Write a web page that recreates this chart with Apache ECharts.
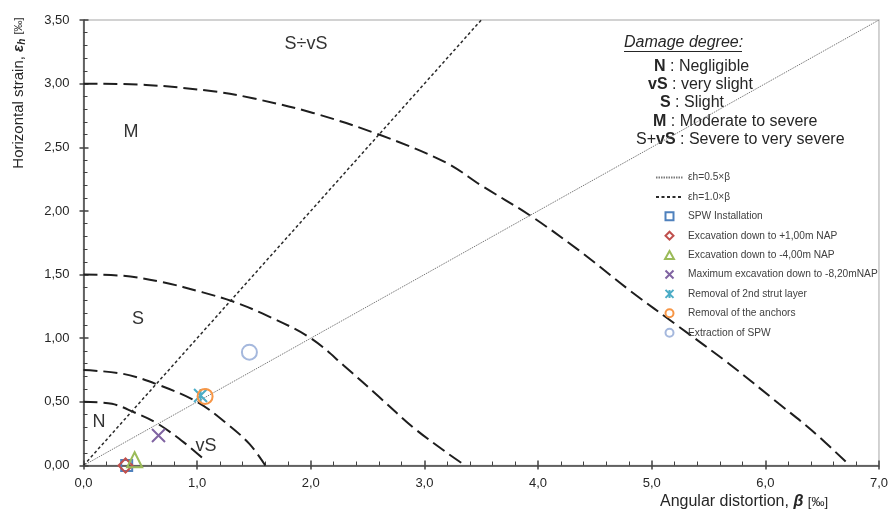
<!DOCTYPE html>
<html>
<head>
<meta charset="utf-8">
<title>Damage degree chart</title>
<script src="https://cdn.jsdelivr.net/npm/echarts@6/dist/echarts.min.js"></script>
<style>html,body{margin:0;padding:0;background:#fff;}</style>
</head>
<body>
<div id="main" style="width:891px;height:519px;"></div>
<script>
// damage boundaries [beta, eps_h]
var limitN  = [[0, 0.5], [0.25, 0.485], [0.44, 0.42], [0.65, 0.33], [0.90, 0.17], [1.07, 0.04]];
var limitVS = [[0, 0.75], [0.35, 0.72], [0.64, 0.64], [1.0, 0.5], [1.26, 0.33], [1.46, 0.17], [1.6, 0.0]];
var limitS  = [[0, 1.5], [0.35, 1.49], [0.70, 1.44], [1.05, 1.36], [1.31, 1.29], [1.61, 1.18], [2.0, 1.0],
               [2.31, 0.77], [2.60, 0.54], [2.90, 0.30], [3.19, 0.105], [3.36, 0.0]];
var limitM  = [[0, 3.0], [0.55, 2.99], [1.14, 2.94], [1.49, 2.885], [2.02, 2.77], [2.60, 2.60], [3.19, 2.38],
               [3.5, 2.2], [3.92, 1.97], [4.36, 1.69], [4.80, 1.38], [5.24, 1.09], [5.68, 0.80], [6.12, 0.485],
               [6.41, 0.275], [6.72, 0.02]];

// reference lines
var lineHalf = [[0, 0], [7, 3.5]];
var lineOne  = [[0, 0], [3.5, 3.5]];

// measured points
var spwInstall  = [[0.38, 0.0]];
var excPlus1    = [[0.37, 0.0]];
var excMinus4   = [[0.45, 0.045]];
var excMax      = [[0.66, 0.236]];
var strutRemove = [[1.03, 0.55]];
var anchorsOut  = [[1.07, 0.543]];
var spwExtract  = [[1.46, 0.89]];

var FONT = '"Liberation Sans", Arial, sans-serif';
var INK = '#262626';

var myChart = echarts.init(document.getElementById('main'));

function tok(size, weight, style) {
    return {fontSize: size, fontFamily: FONT, fontWeight: weight || 'normal', fontStyle: style || 'normal', fill: INK};
}

function boundary(name, data) {
    return {
        name: name, type: 'line', data: data, smooth: 0.35, symbol: 'none', silent: true, z: 2,
        lineStyle: {color: '#1e1e1e', width: 2, type: [14, 6]}
    };
}

function marker(name, data, symbol, size, color) {
    return {
        name: name, type: 'scatter', data: data, symbol: symbol, symbolSize: size, z: 5,
        itemStyle: {color: 'rgba(0,0,0,0)', borderColor: color, borderWidth: 2, opacity: 1}
    };
}

// path symbols keep their aspect in the legend
var squarePath  = 'path://M0,0L10,0L10,10L0,10Z';
var diamondPath = 'path://M5,0L10,5L5,10L0,5Z';
var trianglePath = 'path://M5,0L10,9L0,9Z';
var starPath  = 'path://M0,0L10,10M10,0L0,10M5,0L5,10';
var crossPath = 'path://M0,0L10,10M10,0L0,10';

var markerNames = ['SPW Installation', 'Excavation down to +1,00m NAP', 'Excavation down to -4,00m NAP',
    'Maximum excavation down to -8,20mNAP', 'Removal of 2nd strut layer', 'Removal of the anchors', 'Extraction of SPW'];

var legendData = [
    {name: 'εh=0.5×β', itemStyle: {opacity: 0}},
    {name: 'εh=1.0×β', itemStyle: {opacity: 0}}
].concat(markerNames);

function rowText(x, y, text) {
    return {
        type: 'text', x: x, y: y, silent: true,
        style: {
            text: text, align: 'left', verticalAlign: 'middle',
            fontSize: 16, fontFamily: FONT, fill: INK,
            rich: {b: tok(16, 'bold'), n: tok(16)}
        }
    };
}

function regionText(x, y, text) {
    return {
        type: 'text', x: x, y: y, silent: true,
        style: {text: text, align: 'center', verticalAlign: 'middle', fontSize: 18, fontFamily: FONT, fill: '#333'}
    };
}

var option = {
    animation: false,
    backgroundColor: '#fff',
    textStyle: {fontFamily: FONT},
    grid: {left: 83.5, right: 11, top: 20, bottom: 53.5, show: true, borderColor: '#c4c4c4', borderWidth: 1.5},
    legend: {
        orient: 'vertical', left: 650, top: 166.5,
        itemWidth: 27, itemHeight: 8, itemGap: 7.4, symbolKeepAspect: true,
        textStyle: {fontSize: 10.2, color: '#404040', lineHeight: 12, fontFamily: FONT},
        data: legendData
    },
    xAxis: [{
        type: 'value', min: 0, max: 7, interval: 1,
        axisLine: {show: true, onZero: false, lineStyle: {color: '#404040', width: 1.5}},
        axisTick: {show: true, inside: true, length: 5, lineStyle: {color: '#404040', width: 1.5}},
        minorTick: {show: true, splitNumber: 5, length: 4, lineStyle: {color: '#404040', width: 1}},
        axisLabel: {margin: 11, fontSize: 13, color: INK, formatter: function (v) { return v.toFixed(1).replace('.', ','); }},
        splitLine: {show: false}
    }, {
        type: 'value', min: 0, max: 7, interval: 1, position: 'bottom',
        axisLine: {show: false}, axisLabel: {show: false}, splitLine: {show: false},
        axisTick: {show: true, inside: false, length: 4, lineStyle: {color: '#404040', width: 1.5}}
    }],
    yAxis: [{
        type: 'value', min: 0, max: 3.5, interval: 0.5,
        axisLine: {show: true, onZero: false, lineStyle: {color: '#404040', width: 1.5}},
        axisTick: {show: true, inside: true, length: 5, lineStyle: {color: '#404040', width: 1.5}},
        minorTick: {show: true, splitNumber: 5, length: 4, lineStyle: {color: '#404040', width: 1}},
        axisLabel: {margin: 14, fontSize: 13, color: INK, formatter: function (v) { return v.toFixed(2).replace('.', ','); }},
        splitLine: {show: false}
    }, {
        type: 'value', min: 0, max: 3.5, interval: 0.5, position: 'left',
        axisLine: {show: false}, axisLabel: {show: false}, splitLine: {show: false},
        axisTick: {show: true, inside: false, length: 4, lineStyle: {color: '#404040', width: 1.5}}
    }],
    series: [
        boundary('N limit', limitN),
        boundary('vS limit', limitVS),
        boundary('S limit', limitS),
        boundary('M limit', limitM),
        {
            name: 'εh=0.5×β', type: 'line', data: lineHalf, symbol: 'none', silent: true, z: 3,
            itemStyle: {color: '#7a7a7a'},
            lineStyle: {color: '#7a7a7a', width: 1, type: [1.5, 1]}
        },
        {
            name: 'εh=1.0×β', type: 'line', data: lineOne, symbol: 'none', silent: true, z: 3,
            itemStyle: {color: '#2a2a2a'},
            lineStyle: {color: '#2a2a2a', width: 1.5, type: [3, 2.5]}
        },
        marker(markerNames[0], spwInstall, squarePath, 11, '#4F81BD'),
        marker(markerNames[1], excPlus1, diamondPath, 14, '#C0504D'),
        marker(markerNames[2], excMinus4, trianglePath, 15, '#9BBB59'),
        marker(markerNames[3], excMax, crossPath, 13, '#8064A2'),
        marker(markerNames[4], strutRemove, starPath, 13, '#4BACC6'),
        marker(markerNames[5], anchorsOut, 'circle', 15, '#F79646'),
        marker(markerNames[6], spwExtract, 'circle', 15, '#A5B8DD')
    ],
    graphic: [
        {
            type: 'text', x: 19, y: 93, rotation: Math.PI / 2, silent: true,
            style: {
                text: 'Horizontal strain, {e|ε}{s|h} {u|[‰]}', align: 'center', verticalAlign: 'middle',
                fontSize: 15, fontFamily: FONT, fill: INK,
                rich: {e: tok(15, 'bold', 'italic'), s: Object.assign(tok(10, 'bold', 'italic'), {padding: [6, 0, 0, 0]}), u: tok(11)}
            }
        },
        {
            type: 'text', x: 660, y: 502, silent: true,
            style: {
                text: 'Angular distortion, {b|β} {u|[‰]}', align: 'left', verticalAlign: 'middle',
                fontSize: 16, fontFamily: FONT, fill: INK,
                rich: {b: tok(16, 'bold', 'italic'), u: tok(13)}
            }
        },
        regionText(306, 44, 'S÷vS'),
        regionText(131, 132, 'M'),
        regionText(138, 319, 'S'),
        regionText(99, 422, 'N'),
        regionText(206, 446, 'vS'),
        {
            type: 'text', x: 624, y: 43, silent: true,
            style: {text: 'Damage degree:', align: 'left', verticalAlign: 'middle', fontSize: 16, fontStyle: 'italic', fontFamily: FONT, fill: INK}
        },
        {type: 'line', silent: true, shape: {x1: 624, y1: 51.5, x2: 742, y2: 51.5}, style: {stroke: INK, lineWidth: 1}},
        rowText(654, 67, '{b|N} : Negligible'),
        rowText(648, 85, '{b|vS} : very slight'),
        rowText(660, 103, '{b|S} : Slight'),
        rowText(653, 122, '{b|M} : Moderate to severe'),
        rowText(636, 140, '{n|S+}{b|vS} : Severe to very severe')
    ]
};

myChart.setOption(option);
</script>
</body>
</html>
